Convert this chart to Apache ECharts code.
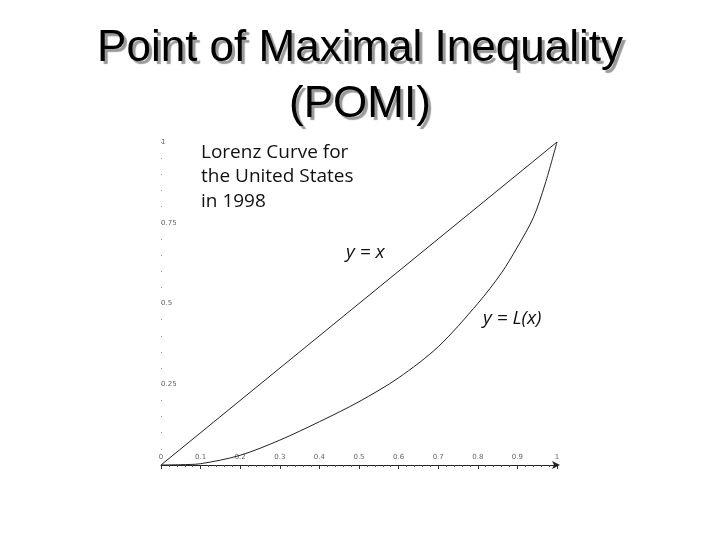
<!DOCTYPE html>
<html>
<head>
<meta charset="utf-8">
<script src="https://cdn.jsdelivr.net/npm/echarts@6/dist/echarts.min.js"></script>
<style>
  html, body { margin: 0; padding: 0; background: #fff; }
  #chart { width: 720px; height: 540px; }
</style>
</head>
<body>
<div id="chart"></div>
<script>
// equality line y = x
var equalX = [0, 1];
var equalY = [0, 1];

// Lorenz curve, US 1998
var lorenzX = [0, 0.05, 0.1, 0.2, 0.3, 0.4, 0.5, 0.6, 0.7, 0.8, 0.86, 0.9, 0.94, 0.97, 1];
var lorenzY = [0, 0.001, 0.004, 0.03, 0.077, 0.134, 0.196, 0.27, 0.366, 0.5, 0.595, 0.675, 0.765, 0.87, 1];

var xTicks = ['0', '0.1', '0.2', '0.3', '0.4', '0.5', '0.6', '0.7', '0.8', '0.9', '1'];
var yTicks = ['0', '0.25', '0.5', '0.75', '1'];

function pairs(xs, ys) {
  var out = [];
  for (var i = 0; i < xs.length; i++) {
    out.push([xs[i], ys[i]]);
  }
  return out;
}

var chart = echarts.init(document.getElementById('chart'));

var option = {
  backgroundColor: '#fff',
  animation: false,
  title: {
    text: 'Point of Maximal Inequality\n(POMI)',
    left: 'center',
    top: 16,
    textStyle: {
      fontFamily: 'Liberation Sans',
      fontWeight: 'normal',
      fontSize: 44,
      lineHeight: 56,
      color: '#000',
      textShadowColor: '#999',
      textShadowOffsetX: 3,
      textShadowOffsetY: 3,
      textShadowBlur: 1
    }
  },
  grid: { left: 161, right: 163, top: 142, bottom: 75 },
  xAxis: {
    type: 'value',
    min: 0,
    max: 1,
    interval: 0.1,
    axisLine: {
      show: true,
      onZero: false,
      symbol: ['none', 'arrow'],
      symbolSize: [6, 8],
      symbolOffset: [0, 3],
      lineStyle: { color: '#222', width: 1 }
    },
    axisTick: { show: true, inside: false, length: 4, lineStyle: { color: '#333' } },
    minorTick: { show: true, splitNumber: 5, length: 2, lineStyle: { color: '#555' } },
    splitLine: { show: false },
    axisLabel: {
      inside: true,
      margin: 4,
      fontSize: 7,
      fontFamily: 'DejaVu Sans',
      color: '#666',
      showMaxLabel: true,
      formatter: function (v) { return xTicks[Math.round(v * 10)]; }
    }
  },
  yAxis: {
    type: 'value',
    min: 0,
    max: 1,
    interval: 0.25,
    axisLine: { show: false },
    axisTick: { show: true, inside: true, length: 1, lineStyle: { color: '#999' } },
    minorTick: { show: true, splitNumber: 5, length: 1, lineStyle: { color: '#999' } },
    splitLine: { show: false },
    axisLabel: {
      inside: true,
      margin: 0,
      fontSize: 7,
      fontFamily: 'DejaVu Sans',
      color: '#666',
      showMinLabel: false,
      formatter: function (v) { return yTicks[Math.round(v * 4)]; }
    }
  },
  series: [
    {
      name: 'y = x',
      type: 'line',
      data: pairs(equalX, equalY),
      showSymbol: false,
      symbol: 'none',
      lineStyle: { color: '#222', width: 1 }
    },
    {
      name: 'y = L(x)',
      type: 'line',
      data: pairs(lorenzX, lorenzY),
      smooth: 0.3,
      showSymbol: false,
      symbol: 'none',
      lineStyle: { color: '#222', width: 1 }
    }
  ],
  graphic: [
    {
      type: 'text',
      left: 201,
      top: 140,
      style: {
        text: 'Lorenz Curve for\nthe United States\nin 1998',
        font: '19px "Open Sans"',
        lineHeight: 24.5,
        fill: '#111'
      }
    },
    {
      type: 'text',
      left: 346,
      top: 243,
      style: {
        text: 'y = x',
        font: 'italic 19px "Open Sans"',
        fill: '#111'
      }
    },
    {
      type: 'text',
      left: 483,
      top: 309,
      style: {
        text: 'y = L(x)',
        font: 'italic 19px "Open Sans"',
        fill: '#111'
      }
    }
  ]
};

chart.setOption(option);
</script>
</body>
</html>
